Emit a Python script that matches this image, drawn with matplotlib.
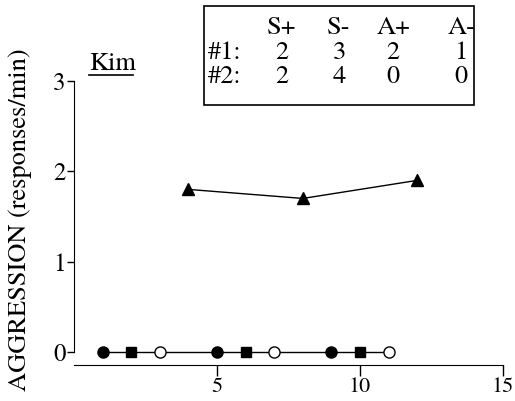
import matplotlib
matplotlib.use("Agg")
import matplotlib.pyplot as plt
from matplotlib.patches import Rectangle

plt.rcParams['font.family'] = ['TeX Gyre Termes', 'DejaVu Serif']

# Data
sessions_main = [1, 2, 3, 5, 6, 7, 9, 10, 11]
values_main = [0, 0, 0, 0, 0, 0, 0, 0, 0]
filled_circle_x = [1, 5, 9]
filled_circle_y = [0, 0, 0]
square_x = [2, 6, 10]
square_y = [0, 0, 0]
open_circle_x = [3, 7, 11]
open_circle_y = [0, 0, 0]
triangle_x = [4, 8, 12]
triangle_y = [1.8, 1.7, 1.9]

table_cols = ["S+", "S-", "A+", "A-"]
table_rows = ["#1:", "#2:"]
table_vals = [["2", "3", "2", "1"], ["2", "4", "0", "0"]]

x_ticks = [5, 10, 15]
y_ticks = [0, 1, 2, 3]

FS = 19
TFS = 18

fig = plt.figure(figsize=(5.15, 4.01), dpi=100)
ax = fig.add_axes([74/515, 31/401, 429/515, 307/401])

ax.plot(sessions_main, values_main, color='black', lw=1.0, zorder=1, clip_on=False)
ax.plot(filled_circle_x, filled_circle_y, 'o', color='black', ms=8, ls='none', zorder=3, clip_on=False)
ax.plot(square_x, square_y, 's', color='black', ms=7.5, ls='none', zorder=3, clip_on=False)
ax.plot(open_circle_x, open_circle_y, 'o', mfc='white', mec='black', mew=1.0, ms=8, ls='none', zorder=3, clip_on=False)
ax.plot(triangle_x, triangle_y, '^', color='black', ms=8, ls='-', lw=1.0, zorder=3, clip_on=False)

ax.set_xlim(0, 15)
ax.set_ylim(-0.2, 3.2)
ax.set_xticks(x_ticks)
ax.set_yticks(y_ticks)
ax.tick_params(labelsize=TFS, direction='out', width=1, colors='black')
ax.tick_params(axis='x', labelsize=16, length=8, pad=1)
ax.tick_params(axis='y', length=5, pad=1)
ax.spines['top'].set_visible(False)
ax.spines['right'].set_visible(False)
ax.spines['left'].set_position(('data', 0))
ax.spines['left'].set_bounds(0, 3)
ax.spines['bottom'].set_position(('data', -0.145))
ax.spines['bottom'].set_bounds(0, 15)

fig.text(20/515, 1 - 220/401, "AGGRESSION (responses/min)", rotation=90,
         ha='center', va='center', fontsize=FS)

fig.text(89/515, 1 - 70/401, "Kim", fontsize=FS, ha='left', va='baseline')
fig.add_artist(plt.Line2D([89/515, 133/515], [1 - 75/401, 1 - 75/401],
                          color='black', lw=1.2, transform=fig.transFigure))

# Table box
fig.add_artist(Rectangle((204/515, 1 - 105/401), 270/515, 99/401, fill=False,
                         ec='black', lw=1.2, transform=fig.transFigure))
col_x = [282, 339, 393, 461]
row_label_x = 208
header_y = 34
row_y = [59, 83]
for cx, c in zip(col_x, table_cols):
    fig.text(cx/515, 1 - header_y/401, c, fontsize=FS, ha='center', va='baseline')
for ry, rl, vals in zip(row_y, table_rows, table_vals):
    fig.text(row_label_x/515, 1 - ry/401, rl, fontsize=FS, ha='left', va='baseline')
    for cx, v in zip(col_x, vals):
        fig.text(cx/515, 1 - ry/401, v, fontsize=FS, ha='center', va='baseline')

fig.savefig("out.png", dpi=100)
